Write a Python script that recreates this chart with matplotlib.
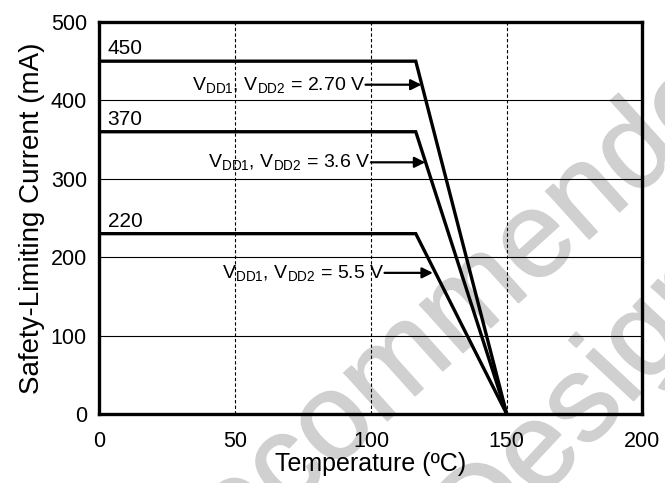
import matplotlib
matplotlib.use('Agg')
import matplotlib.pyplot as plt
import matplotlib.patheffects as pe

plt.rcParams['font.family'] = ['Liberation Sans', 'DejaVu Sans']
plt.rcParams['mathtext.fontset'] = 'custom'
plt.rcParams['mathtext.rm'] = 'Liberation Sans'

# curve data (temperature in C, current in mA)
temp = [0, 116.5, 150]
i_270 = [450, 450, 0]
i_36 = [360, 360, 0]
i_55 = [230, 230, 0]

# labels above each flat part
level_labels = ['450', '370', '220']
level_label_y = [466, 376, 246]

# annotations: text, arrow y, text end x, arrow tip x
ann_text = [r'$\mathregular{V_{DD1}}$, $\mathregular{V_{DD2}}$ = 2.70 V',
            r'$\mathregular{V_{DD1}}$, $\mathregular{V_{DD2}}$ = 3.6 V',
            r'$\mathregular{V_{DD1}}$, $\mathregular{V_{DD2}}$ = 5.5 V']
ann_y = [420, 321, 180]
ann_x = [98, 100, 105]
ann_tip = [118.6, 120, 122.8]

fig = plt.figure(figsize=(6.65, 4.83), dpi=100)
ax = fig.add_axes([0.1496, 0.1429, 0.8165, 0.8116])
ax.patch.set_alpha(0)

# watermark
wm_color = '#d0d0d0'
fx = [pe.withStroke(linewidth=1.2, foreground=wm_color)]
fig.text(438/665, 1-332/483, 'Not Recommended for', rotation=42, rotation_mode='anchor',
         ha='center', va='center', fontsize=88, color=wm_color, zorder=-5, path_effects=fx)
fig.text(512/665, 1-484/483, 'New Designs', rotation=47, rotation_mode='anchor',
         ha='center', va='center', fontsize=88, color=wm_color, zorder=-5, path_effects=fx)

for y in [100, 200, 300, 400]:
    ax.axhline(y, color='black', lw=0.8, zorder=1)
for x in [50, 100, 150]:
    ax.axvline(x, color='black', lw=0.8, ls=(0, (3, 2)), zorder=1)

for s in [i_270, i_36, i_55]:
    ax.plot(temp, s, color='black', lw=2.4, zorder=3, solid_joinstyle='miter')

for lab, y in zip(level_labels, level_label_y):
    ax.text(3, y, lab, fontsize=15, ha='left', va='center')

for t, y, x, tip in zip(ann_text, ann_y, ann_x, ann_tip):
    ax.text(x, y, t, fontsize=14, ha='right', va='center')
    ax.annotate('', xy=(tip, y), xytext=(x, y),
                arrowprops=dict(arrowstyle='-|>', color='black', lw=1.6,
                                mutation_scale=16, shrinkA=0, shrinkB=0))

ax.set_xlim(0, 200)
ax.set_ylim(0, 500)
ax.set_xticks([0, 50, 100, 150, 200])
ax.set_yticks([0, 100, 200, 300, 400, 500])
ax.tick_params(length=0, labelsize=15.5)
ax.tick_params(axis='x', pad=12)
ax.tick_params(axis='y', pad=9)
for sp in ax.spines.values():
    sp.set_linewidth(2.4)
ax.set_xlabel('Temperature (ºC)', fontsize=18, labelpad=0)
ax.set_ylabel('Safety-Limiting Current (mA)', fontsize=20, labelpad=4)

fig.savefig('out.png', dpi=100)
